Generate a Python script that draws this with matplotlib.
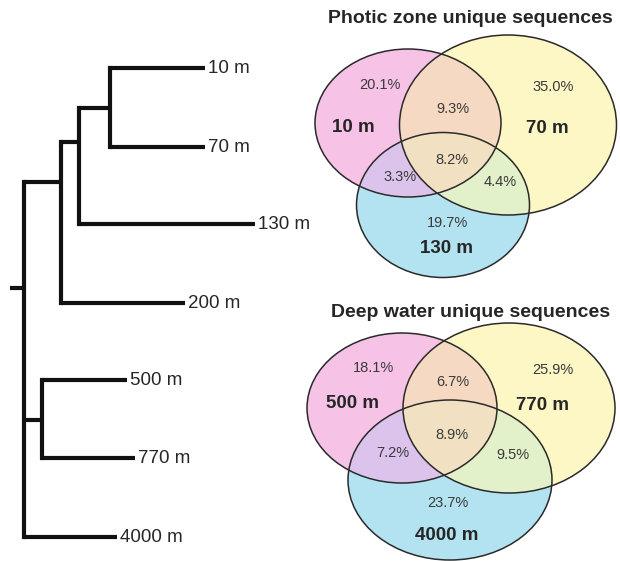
import matplotlib
matplotlib.use("Agg")
import matplotlib.pyplot as plt
from matplotlib.patches import Ellipse
import numpy as np

plt.rcParams['font.family'] = ['Liberation Sans', 'DejaVu Sans']

# dendrogram: leaves (depth labels), their row positions and tip positions
leaves = ['10 m', '70 m', '130 m', '200 m', '500 m', '770 m', '4000 m']
leaf_y = [68, 147, 224, 303, 380, 458, 537]
leaf_x = [205, 205, 255, 185, 127, 135, 117]
# internal nodes: (node x, attach y, children); children index leaves then nodes
nodes = [
    (110, 108, [0, 1]),       # 7
    (79, 142, [7, 2]),        # 8
    (61, 182, [8, 3]),        # 9
    (42, 420, [4, 5]),        # 10
    (24, 288, [9, 10, 6]),    # 11 root
]
root_stub = 10

# venn diagrams
venn_titles = ['Photic zone unique sequences', 'Deep water unique sequences']
venn_sets = [['10 m', '70 m', '130 m'], ['500 m', '770 m', '4000 m']]
# region values: A only, AB, B only, ABC, AC, BC, C only
venn_vals = [
    ['20.1%', '9.3%', '35.0%', '8.2%', '3.3%', '4.4%', '19.7%'],
    ['18.1%', '6.7%', '25.9%', '8.9%', '7.2%', '9.5%', '23.7%'],
]

# geometry (pixel space)
ell_geom = [
    [(408, 123, 186, 148), (508, 125, 217, 180), (443, 205, 173, 145)],
    [(402, 408, 190, 150), (509, 408, 212, 170), (450, 480, 204, 160)],
]
title_pos = [(470, 18), (471, 312)]
set_label_pos = [
    [(353, 127), (547, 128), (447, 248)],
    [(353, 403), (543, 405), (447, 535)],
]
val_pos = [
    [(380, 85), (453, 109), (553, 87), (452, 160), (400, 177), (500, 182), (447, 223)],
    [(373, 368), (453, 382), (553, 370), (452, 435), (393, 453), (513, 455), (448, 503)],
]
# fill colour per membership code (A=1, B=2, C=4)
region_colors = {
    1: '#f6c3e6', 2: '#fcf7c4', 4: '#b3e3f1',
    3: '#f6d9c2', 5: '#dcc3ec', 6: '#e2f1c9', 7: '#f1e1c2',
}

fig = plt.figure(figsize=(6.2, 5.61), dpi=100)
ax = fig.add_axes([0, 0, 1, 1])
ax.set_xlim(0, 620)
ax.set_ylim(561, 0)
ax.axis('off')

# tree
pos_x = list(leaf_x)
pos_y = list(leaf_y)
for nx, ny, ch in nodes:
    pos_x.append(nx)
    pos_y.append(ny)
lw = 3.0
for i, (nx, ny, ch) in enumerate(nodes):
    ys = [pos_y[c] for c in ch]
    ax.plot([nx, nx], [min(ys), max(ys)], color='#111111', lw=lw, solid_capstyle='projecting')
    for c in ch:
        ax.plot([nx, pos_x[c]], [pos_y[c], pos_y[c]], color='#111111', lw=lw, solid_capstyle='butt')
root = nodes[-1]
ax.plot([root_stub, root[0]], [root[1], root[1]], color='#111111', lw=lw, solid_capstyle='butt')
for name, x, y in zip(leaves, leaf_x, leaf_y):
    ax.text(x + 3, y, name, fontsize=13.5, va='center', ha='left', color='#262626')

# venn fills as a raster of region membership
W, H = 620, 561
yy, xx = np.mgrid[0:H, 0:W] + 0.5
rgba = np.ones((H, W, 4))
rgba[..., 3] = 0
for k in range(2):
    code = np.zeros((H, W), dtype=int)
    for bit, (cx, cy, w, h) in zip([1, 2, 4], ell_geom[k]):
        inside = ((xx - cx) / (w / 2)) ** 2 + ((yy - cy) / (h / 2)) ** 2 <= 1
        code[inside] |= bit
    for c, col in region_colors.items():
        m = code == c
        rgba[m] = matplotlib.colors.to_rgba(col)
ax.imshow(rgba, extent=(0, W, H, 0), interpolation='bilinear', zorder=0)

for k in range(2):
    for (cx, cy, w, h) in ell_geom[k]:
        ax.add_patch(Ellipse((cx, cy), w, h, facecolor='none', edgecolor='#2a2a2a', lw=1.1))
    tx, ty = title_pos[k]
    ax.text(tx, ty, venn_titles[k], fontsize=14, fontweight='bold', ha='center', va='center', color='#262626')
    for name, (x, y) in zip(venn_sets[k], set_label_pos[k]):
        ax.text(x, y, name, fontsize=13.5, fontweight='bold', ha='center', va='center', color='#262626')
    for v, (x, y) in zip(venn_vals[k], val_pos[k]):
        ax.text(x, y, v, fontsize=10.5, ha='center', va='center', color='#3a3a3a')

ax.set_xlim(0, 620)
ax.set_ylim(561, 0)
fig.savefig('out.png', dpi=100)
